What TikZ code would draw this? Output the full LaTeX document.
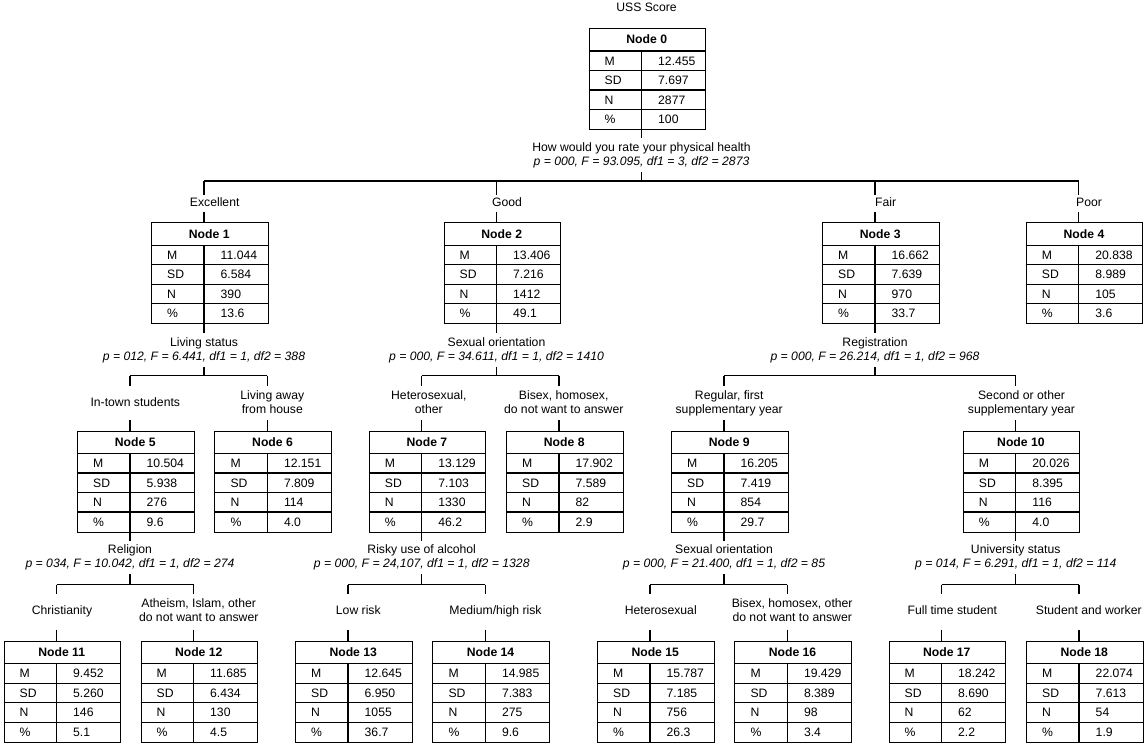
\documentclass[tikz,border=0pt]{standalone}
\usepackage{fontspec}
\setmainfont{Liberation Sans}
\newcommand\fsz{\fontsize{12.2}{14}\selectfont}
\tikzset{
  every node/.style={font=\fsz},
  tbox/.style={draw, line width=1.1pt, anchor=north west, minimum width=116.5pt, minimum height=101pt, inner sep=0pt},
  tline/.style={line width=1.1pt},
  cellbase/.style={inner sep=0pt, text height=8.8pt, text depth=0pt},
  hcell/.style={cellbase, font=\fsz\bfseries, anchor=center},
  lcell/.style={cellbase, anchor=west},
  conn/.style={line width=1.1pt},
  labA/.style={inner sep=0pt, minimum height=16.5pt, text height=9pt, text depth=2.5pt, align=center},
  labB/.style={inner sep=0pt, minimum height=34.3pt, text height=9pt, text depth=2.5pt, align=center},
  labBB/.style={inner sep=0pt, minimum height=34.3pt, text height=23pt, text depth=2.5pt, align=center},
  labC/.style={inner sep=0pt, minimum height=35.3pt, text height=9pt, text depth=2.5pt, align=center},
  labCC/.style={inner sep=0pt, minimum height=35.3pt, text height=23pt, text depth=2.5pt, align=center},
  stat/.style={inner sep=0pt, minimum height=33.5pt, text height=23pt, text depth=2.5pt, align=center},
}
% name, left, top, number, M, SD, N, %
\newcommand\tablenode[8]{%
  \node[tbox] (#1) at (#2,#3) {};
  \draw[tline] (#2,#3+23) -- ++(116.5,0);
  \draw[tline] (#2,#3+42.5) -- ++(116.5,0);
  \draw[tline] (#2,#3+62) -- ++(116.5,0);
  \draw[tline] (#2,#3+81.5) -- ++(116.5,0);
  \draw[tline] (#2+53,#3+23) -- (#2+53,#3+101);
  \node[hcell] (#1h) at (#2+58.25,#3+11.5) {Node #4};
  \node[lcell] (#1ma) at (#2+16,#3+32.75) {M};
  \node[lcell] (#1mb) at (#2+69.5,#3+32.75) {#5};
  \node[lcell] (#1sa) at (#2+16,#3+52.25) {SD};
  \node[lcell] (#1sb) at (#2+69.5,#3+52.25) {#6};
  \node[lcell] (#1na) at (#2+16,#3+71.75) {N};
  \node[lcell] (#1nb) at (#2+69.5,#3+71.75) {#7};
  \node[lcell] (#1pa) at (#2+16,#3+91.25) {\%};
  \node[lcell] (#1pb) at (#2+69.5,#3+91.25) {#8};
  \coordinate (#1-t) at (#2+53,#3);
  \coordinate (#1-b) at (#2+53,#3+101);
}
\begin{document}
\begin{tikzpicture}[x=1pt,y=-1pt]
\fill[white] (0,0) rectangle (1147,744);
\useasboundingbox (0,0) rectangle (1147,744);

\node[labA] (title) at (646.5,8.5) {USS Score};

% tables
\tablenode{n0}{588.5}{28}{0}{12.455}{7.697}{2877}{100}
\tablenode{n1}{151}{222.3}{1}{11.044}{6.584}{390}{13.6}
\tablenode{n2}{443.5}{222.3}{2}{13.406}{7.216}{1412}{49.1}
\tablenode{n3}{822}{222.3}{3}{16.662}{7.639}{970}{33.7}
\tablenode{n4}{1025.7}{222.3}{4}{20.838}{8.989}{105}{3.6}
\tablenode{n5}{77}{430.5}{5}{10.504}{5.938}{276}{9.6}
\tablenode{n6}{214.3}{430.5}{6}{12.151}{7.809}{114}{4.0}
\tablenode{n7}{368.7}{430.5}{7}{13.129}{7.103}{1330}{46.2}
\tablenode{n8}{506}{430.5}{8}{17.902}{7.589}{82}{2.9}
\tablenode{n9}{671}{430.5}{9}{16.205}{7.419}{854}{29.7}
\tablenode{n10}{962.7}{430.5}{10}{20.026}{8.395}{116}{4.0}
\tablenode{n11}{3.5}{640.7}{11}{9.452}{5.260}{146}{5.1}
\tablenode{n12}{140.5}{640.7}{12}{11.685}{6.434}{130}{4.5}
\tablenode{n13}{295}{640.7}{13}{12.645}{6.950}{1055}{36.7}
\tablenode{n14}{432.3}{640.7}{14}{14.985}{7.383}{275}{9.6}
\tablenode{n15}{597}{640.7}{15}{15.787}{7.185}{756}{26.3}
\tablenode{n16}{734.3}{640.7}{16}{19.429}{8.389}{98}{3.4}
\tablenode{n17}{888.5}{640.7}{17}{18.242}{8.690}{62}{2.2}
\tablenode{n18}{1026}{640.7}{18}{22.074}{7.613}{54}{1.9}

% split statistics
\node[stat] (s0) at (641.5,155) {How would you rate your physical health\\\textit{p = 000, F = 93.095, df1 = 3, df2 = 2873}};
\node[stat] (s1) at (204,349.8) {Living status\\\textit{p = 012, F = 6.441, df1 = 1, df2 = 388}};
\node[stat] (s2) at (496.5,349.8) {Sexual orientation\\\textit{p = 000, F = 34.611, df1 = 1, df2 = 1410}};
\node[stat] (s3) at (875,349.8) {Registration\\\textit{p = 000, F = 26.214, df1 = 1, df2 = 968}};
\node[stat] (s5) at (130,557.5) {Religion\\\textit{p = 034, F = 10.042, df1 = 1, df2 = 274}};
\node[stat] (s7) at (421.7,557.5) {Risky use of alcohol\\\textit{p = 000, F = 24,107, df1 = 1, df2 = 1328}};
\node[stat] (s9) at (724,557.5) {Sexual orientation\\\textit{p = 000, F = 21.400, df1 = 1, df2 = 85}};
\node[stat] (s10) at (1015.7,557.5) {University status\\\textit{p = 014, F = 6.291, df1 = 1, df2 = 114}};

% branch labels
\node[labA] (l1) at (214.7,203.25) {Excellent};
\node[labA] (l2) at (507,203.25) {Good};
\node[labA] (l3) at (885.7,203.25) {Fair};
\node[labA] (l4) at (1089,203.25) {Poor};
\node[labB] (l5) at (135.3,402.9) {In-town students};
\node[labBB] (l6) at (272.3,402.9) {Living away\\from house};
\node[labBB] (l7) at (428.8,402.9) {Heterosexual,\\other};
\node[labBB] (l8) at (563.7,402.9) {Bisex, homosex,\\do not want to answer};
\node[labBB] (l9) at (729.2,402.9) {Regular, first\\supplementary year};
\node[labBB] (l10) at (1021.5,402.9) {Second or other\\supplementary year};
\node[labC] (l11) at (62,611.7) {Christianity};
\node[labCC] (l12) at (198.7,611.7) {Atheism, Islam, other\\do not want to answer};
\node[labC] (l13) at (358.3,611.7) {Low risk};
\node[labC] (l14) at (495.5,611.7) {Medium/high risk};
\node[labC] (l15) at (660.8,611.7) {Heterosexual};
\node[labCC] (l16) at (792.2,611.7) {Bisex, homosex, other\\do not want to answer};
\node[labC] (l17) at (952.3,611.7) {Full time student};
\node[labC] (l18) at (1088.8,611.7) {Student and worker};

% horizontal split levels
\coordinate (h0) at (641.5,181);
\coordinate (h1) at (204,375.7);
\coordinate (h2) at (496.5,375.7);
\coordinate (h3) at (875,375.7);
\coordinate (h5) at (130,584.5);
\coordinate (h7) at (421.7,584.5);
\coordinate (h9) at (724,584.5);
\coordinate (h10) at (1015.7,584.5);

% connectors
\foreach \p/\s/\h/\a/\b in {n0/s0/h0/n1/n4, n1/s1/h1/n5/n6, n2/s2/h2/n7/n8, n3/s3/h3/n9/n10,
  n5/s5/h5/n11/n12, n7/s7/h7/n13/n14, n9/s9/h9/n15/n16, n10/s10/h10/n17/n18}{
  \draw[conn] (\p-b) -- (\p-b |- \s.north);
  \draw[conn] (\p-b |- \s.south) -- (\p-b |- \h);
  \draw[conn] (\a-t |- \h) -- (\b-t |- \h);
}
\foreach \c/\l/\h in {n1/l1/h0, n2/l2/h0, n3/l3/h0, n4/l4/h0,
  n5/l5/h1, n6/l6/h1, n7/l7/h2, n8/l8/h2, n9/l9/h3, n10/l10/h3,
  n11/l11/h5, n12/l12/h5, n13/l13/h7, n14/l14/h7, n15/l15/h9, n16/l16/h9, n17/l17/h10, n18/l18/h10}{
  \draw[conn] (\c-t |- \h) -- (\c-t |- \l.north);
  \draw[conn] (\c-t |- \l.south) -- (\c-t);
}
\end{tikzpicture}
\end{document}
